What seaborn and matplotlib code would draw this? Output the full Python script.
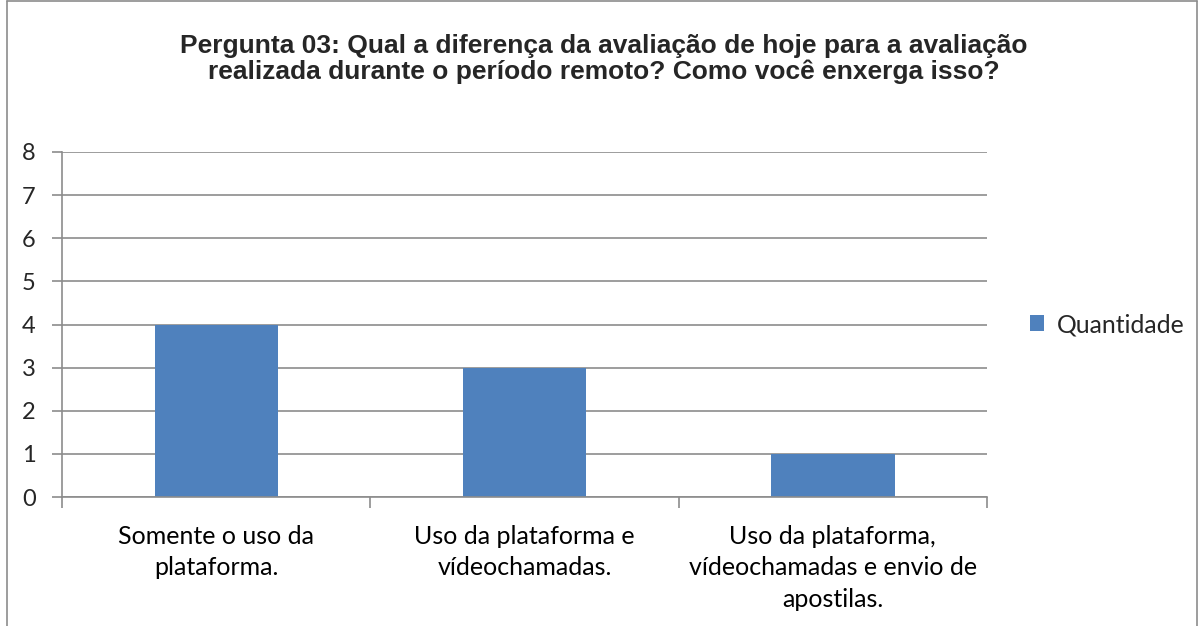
import matplotlib
matplotlib.use("Agg")
import matplotlib.pyplot as plt
import pandas as pd
import seaborn as sns

categories = ["Somente o uso da\nplataforma.",
              "Uso da plataforma e\nvídeochamadas.",
              "Uso da plataforma,\nvídeochamadas e envio de\napostilas."]
quantidade = [4, 3, 1]
series_name = "Quantidade"
title = ("Pergunta 03: Qual a diferença da avaliação de hoje para a avaliação\n"
         "realizada durante o período remoto? Como você enxerga isso?")

df = pd.DataFrame({"cat": categories, "val": quantidade, "serie": series_name})

sns.set_theme(style="white")
plt.rcParams["font.family"] = ["Lato", "DejaVu Sans"]

fig = plt.figure(figsize=(12.03, 6.26), dpi=100)
ax = fig.add_axes([62 / 1203, 1 - 497 / 626, 925 / 1203, 345 / 626])

sns.barplot(data=df, x="cat", y="val", hue="serie", palette=["#4f81bd"],
            width=0.4, ax=ax, saturation=1, legend=True, linewidth=0)

ax.set_ylim(0, 8)
ax.set_xlim(-0.5, 2.5)
ax.set_yticks(range(0, 9))
ax.yaxis.grid(True, color="#8c8c8c", linewidth=1.2)
ax.set_axisbelow(True)
for s in ["top", "right"]:
    ax.spines[s].set_visible(False)
ax.spines["left"].set_color("#8c8c8c")
ax.spines["bottom"].set_color("#8c8c8c")
ax.spines["left"].set_linewidth(1.2)
ax.spines["bottom"].set_linewidth(1.2)
ax.set_xlabel("")
ax.set_ylabel("")

# category boundary ticks
ax.set_xticks([0, 1, 2])
ax.set_xticklabels(categories, fontsize=18, color="black", linespacing=1.45)
ax.tick_params(axis="x", length=0, pad=20)
ax.set_xticks([-0.5, 0.5, 1.5, 2.5], minor=True)
ax.tick_params(axis="x", which="minor", length=8, width=1.2, color="#8c8c8c", direction="out", bottom=True)
ax.tick_params(axis="y", length=7, width=1.2, color="#8c8c8c", direction="out", labelsize=17, pad=12, left=True)

ax.legend(loc="center left", bbox_to_anchor=(1.022, 0.5), frameon=False,
          fontsize=17.8, handlelength=0.6, handleheight=0.6, handletextpad=0.5)

fig.text(0.5 * (177 + 1030) / 1203, 1 - 59 / 626, title, ha="center", va="center",
         fontsize=19, fontweight="bold", family=["Liberation Sans", "DejaVu Sans"],
         linespacing=1.12)

# chart border
fig.add_artist(plt.Line2D([7 / 1203, 7 / 1203], [0, 1 - 1 / 626], transform=fig.transFigure, color="#8c8c8c", lw=1.2))
fig.add_artist(plt.Line2D([7 / 1203, 1197 / 1203], [1 - 1 / 626, 1 - 1 / 626], transform=fig.transFigure, color="#8c8c8c", lw=1.2))
fig.add_artist(plt.Line2D([1197 / 1203, 1197 / 1203], [0, 1 - 1 / 626], transform=fig.transFigure, color="#8c8c8c", lw=1.2))

fig.savefig("out.png", dpi=100)
